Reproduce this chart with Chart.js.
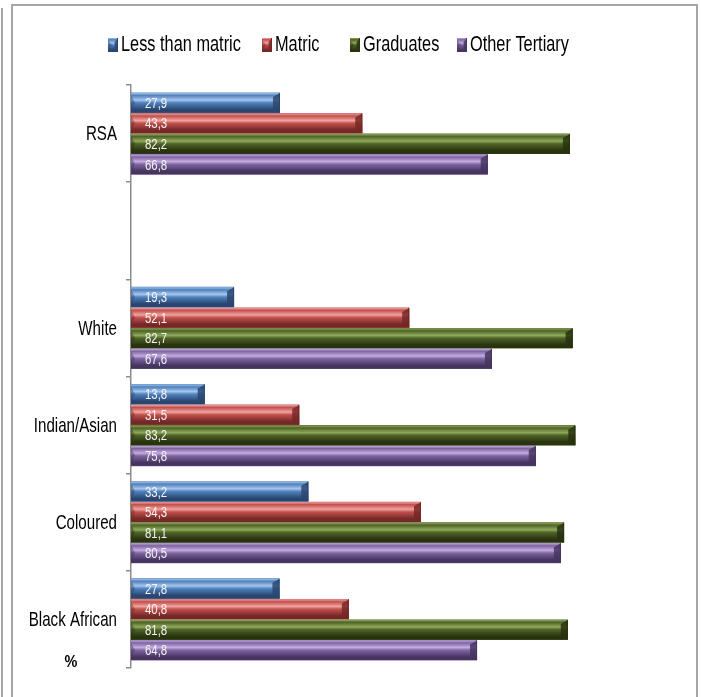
<!DOCTYPE html>
<html>
<head>
<meta charset="utf-8">
<script src="https://cdn.jsdelivr.net/npm/chart.js@4.4.1/dist/chart.umd.min.js"></script>
<style>
  html, body { margin: 0; padding: 0; background: #fff; }
</style>
</head>
<body>
<canvas id="eduChart" width="701" height="697"></canvas>
<script>
// Categories (blank slot keeps the gap under RSA)
const groups = ['RSA', '', 'White', 'Indian/Asian', 'Coloured', 'Black African'];
const seriesNames = ['Less than matric', 'Matric', 'Graduates', 'Other Tertiary'];

// Percentages per group
const lessThanMatric = [27.9, null, 19.3, 13.8, 33.2, 27.8];
const matric = [43.3, null, 52.1, 31.5, 54.3, 40.8];
const graduates = [82.2, null, 82.7, 83.2, 81.1, 81.8];
const otherTertiary = [66.8, null, 67.6, 75.8, 80.5, 64.8];

const FONT = '"Liberation Sans", Arial, sans-serif';

// light / base / dark shades for the bevelled bars
const palettes = [
    { light: '#a6c6ee', base: '#4f81bd', dark: '#2a4670' },
    { light: '#f3a3a0', base: '#c0504d', dark: '#742827' },
    { light: '#8fa95a', base: '#4f6228', dark: '#28330f' },
    { light: '#c2addf', base: '#8064a2', dark: '#45355f' }
];

// condensed text: regular face squeezed horizontally
const drawText = (ctx, text, x, y, size, sx, align, color, weight = '') => {
    ctx.save();
    ctx.font = `${weight} ${size}px ${FONT}`;
    ctx.fillStyle = color;
    ctx.textAlign = align;
    ctx.textBaseline = 'middle';
    ctx.translate(x, y);
    ctx.scale(sx, 1);
    ctx.fillText(text, 0, 0);
    ctx.restore();
};

const bevelFill = (ctx, x0, x1, top, bot, pal) => {
    const g = ctx.createLinearGradient(0, top, 0, bot);
    g.addColorStop(0, pal.light);
    g.addColorStop(0.12, pal.base);
    g.addColorStop(0.36, pal.light);
    g.addColorStop(0.5, pal.base);
    g.addColorStop(0.85, pal.dark);
    g.addColorStop(1, pal.dark);
    ctx.fillStyle = g;
    ctx.fillRect(x0, top, x1 - x0, bot - top);

    const yc = (top + bot) / 2;
    const w = Math.min(7, (x1 - x0) / 3);
    // right end wedge
    ctx.fillStyle = pal.dark;
    ctx.globalAlpha = 0.85;
    ctx.beginPath();
    ctx.moveTo(x1, top);
    ctx.lineTo(x1 - w, top + 4);
    ctx.lineTo(x1 - w, bot - 4);
    ctx.lineTo(x1, bot);
    ctx.closePath();
    ctx.fill();
    // left end wedge
    ctx.globalAlpha = 0.45;
    ctx.beginPath();
    ctx.moveTo(x0, top + 2);
    ctx.lineTo(x0 + 4, yc);
    ctx.lineTo(x0, bot - 2);
    ctx.closePath();
    ctx.fill();
    ctx.globalAlpha = 1;
    // edges
    ctx.strokeStyle = pal.dark;
    ctx.lineWidth = 1;
    ctx.beginPath();
    ctx.moveTo(x0, bot - 0.5);
    ctx.lineTo(x1, bot - 0.5);
    ctx.moveTo(x1 - 0.5, top);
    ctx.lineTo(x1 - 0.5, bot);
    ctx.stroke();
};

const fmt = v => v.toFixed(1).replace('.', ',');

const bevelPlugin = {
    id: 'bevelPlugin',
    beforeDraw(chart) {
        const ctx = chart.ctx;
        ctx.save();
        ctx.fillStyle = '#fff';
        ctx.fillRect(0, 0, chart.width, chart.height);
        // outer frame
        ctx.strokeStyle = '#a6a6a6';
        ctx.lineWidth = 2;
        ctx.beginPath();
        ctx.moveTo(2, 8); ctx.lineTo(2, 697);
        ctx.moveTo(12, 697); ctx.lineTo(12, 5); ctx.lineTo(697, 5); ctx.lineTo(697, 697);
        ctx.stroke();
        ctx.restore();
    },
    afterDatasetsDraw(chart) {
        const ctx = chart.ctx;
        chart.data.datasets.forEach((ds, i) => {
            const meta = chart.getDatasetMeta(i);
            meta.data.forEach((el, j) => {
                const v = ds.data[j];
                if (v === null || v === undefined) return;
                const { x, y, base, height } = el.getProps(['x', 'y', 'base', 'height'], true);
                const top = y - height / 2 + 0.5;
                const bot = y + height / 2 - 0.5;
                ctx.save();
                bevelFill(ctx, base, x, top, bot, palettes[i]);
                ctx.restore();
                drawText(ctx, fmt(v), base + 14, y + 1, 15, 0.76, 'left', '#f4f4f4');
            });
        });
    },
    afterDraw(chart) {
        const ctx = chart.ctx;
        // category labels beside the axis
        const ys = chart.scales.y;
        groups.forEach((g, i) => {
            if (g) drawText(ctx, g, 117, ys.getPixelForTick(i) + 1, 21, 0.72, 'right', '#000');
        });
        // legend row
        const starts = [108, 262, 350, 457];
        seriesNames.forEach((name, i) => {
            const bx = starts[i];
            ctx.save();
            bevelFill(ctx, bx, bx + 10, 38, 52, palettes[i]);
            ctx.restore();
            drawText(ctx, name, bx + 13, 45, 21.5, 0.76, 'left', '#000');
        });
        // unit label
        drawText(ctx, '%', 71, 662, 17, 0.85, 'center', '#000', 'bold');
    }
};

const seriesData = [lessThanMatric, matric, graduates, otherTertiary];

new Chart(document.getElementById('eduChart'), {
    type: 'bar',
    data: {
        labels: groups,
        datasets: seriesNames.map((name, i) => ({
            label: name,
            data: seriesData[i],
            backgroundColor: palettes[i].base,
            borderWidth: 0,
            categoryPercentage: 0.845,
            barPercentage: 1
        }))
    },
    options: {
        indexAxis: 'y',
        responsive: false,
        animation: false,
        layout: { padding: { left: 0, right: 36, top: 85, bottom: 29 } },
        plugins: {
            legend: { display: false },
            tooltip: { enabled: false }
        },
        scales: {
            x: { display: false, min: 0, max: 100 },
            y: {
                grid: { drawOnChartArea: false, tickLength: 5, color: '#8c8c8c', lineWidth: 1.5, offset: true },
                border: { color: '#8c8c8c', width: 1.5 },
                ticks: { display: false },
                afterFit: scale => { scale.width = 131; }
            }
        }
    },
    plugins: [bevelPlugin]
});
</script>
</body>
</html>
